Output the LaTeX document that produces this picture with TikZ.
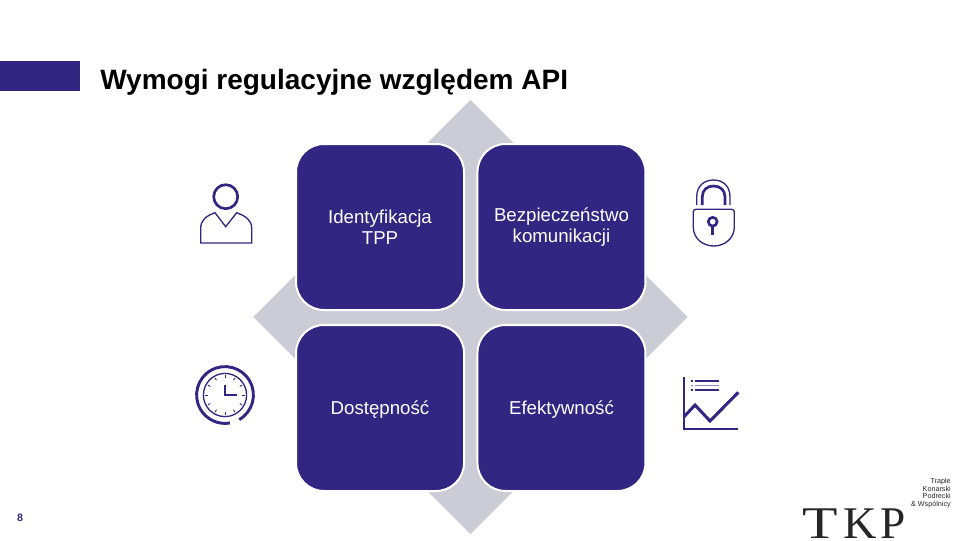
\documentclass[tikz,border=0pt]{standalone}
\usepackage{fontspec}
\setmainfont{Liberation Sans}
\newfontfamily\logofont{Liberation Serif}
\usetikzlibrary{positioning, shapes.geometric}
\definecolor{tkpnavy}{RGB}{49,39,130}
\definecolor{tkpgrey}{RGB}{203,204,214}

\begin{document}
\begin{tikzpicture}[
  x=0.75pt, y=-0.75pt,
  block/.style={
    rectangle, rounded corners=21pt,
    draw=white, line width=1.5pt, fill=tkpnavy,
    minimum width=126pt, minimum height=124.5pt,
    align=center, text=white, inner sep=0pt,
    font=\fontsize{14}{16}\selectfont,
  },
  thinline/.style={draw=tkpnavy, line width=1pt},
  thickline/.style={draw=tkpnavy, line width=2pt},
]
\useasboundingbox (0,0) rectangle (960,540);

% ── Header
\node[rectangle, fill=tkpnavy, minimum width=60pt, minimum height=22.5pt, inner sep=0pt,
      anchor=north west] (headerBar) at (0,61) {};
\node[anchor=west, inner sep=0pt, font=\fontsize{21}{23}\selectfont\bfseries] (pageTitle) at (100,82)
  {Wymogi regulacyjne względem API};

% ── Backdrop and blocks
\node[diamond, fill=tkpgrey, aspect=1, inner sep=0pt, minimum width=326pt, minimum height=326pt]
  (backdrop) at (470.5,317) {};

\node[block] (identity) at (380,227) {Identyfikacja\\TPP};
\node[block, right=8.6pt of identity] (security) {Bezpieczeństwo\\komunikacji};
\node[block, text depth=0pt, below=9.75pt of identity] (uptime) {Dostępność};
\node[block, text depth=0pt, below=9.75pt of security] (efficiency) {Efektywność};

% ── Person icon
\draw[thickline] (225.7,196.7) circle[radius=9pt];
\draw[thinline] (200.7,228.3) .. controls (200.7,220) and (206,216) .. (215,212.7)
  -- (225.7,226.7) -- (236.7,212.7) .. controls (245.5,216) and (251.7,220) .. (251.7,228.3)
  -- (251.7,243) -- (200.7,243) -- cycle;

% ── Clock icon
\draw[thinline] (225,395) circle[radius=16.2pt];
\draw[thickline, line width=2.2pt] (225,395) ++(-60:21.3pt) arc[start angle=-60, end angle=280, radius=21.3pt];
\draw[thickline] (225,385) -- (225,395) -- (237,395);
\foreach \ang in {0,30,...,330} {
  \draw[thinline, line width=0.7pt] (225,395) ++(\ang:12.8pt) -- ++(\ang:2pt);
}

% ── Lock icon
\draw[thinline] (696,209.3) -- (731.5,209.3) .. controls (733.3,209.3) and (734.3,210.5) .. (734.3,212)
  -- (734.3,227) .. controls (734.3,239) and (724,246) .. (713.8,246)
  .. controls (703.5,246) and (693.3,239) .. (693.3,227) -- (693.3,212)
  .. controls (693.3,210.5) and (694.3,209.3) .. (696,209.3) -- cycle;
\draw[thinline] (696.7,205) -- (696.7,197) .. controls (696.7,186) and (704,180) .. (713.5,180)
  .. controls (723,180) and (730,186) .. (730,197) -- (730,205);
\draw[thickline] (702.3,205) -- (702.3,197) .. controls (702.3,190) and (707,186) .. (713.5,186)
  .. controls (720,186) and (725,190) .. (725,197) -- (725,205);
\draw[thickline] (712.7,221.7) circle[radius=3.3pt];
\draw[thickline] (712.7,226.2) -- (712.7,235);

% ── Chart icon
\draw[thinline, line width=1.3pt] (684,376.7) -- (684,429.3) -- (738.3,429.3);
\draw[thickline, line width=2.3pt] (684,416.7) -- (695,405) -- (710,421) -- (738.3,392.3);
\foreach \rowy/\rowcol in {381/tkpnavy,385.7/tkpnavy!55,390/tkpnavy} {
  \draw[draw=\rowcol, line width=0.8pt] (695,\rowy) -- (719,\rowy);
  \draw[draw=\rowcol, line width=0.8pt] (690.7,\rowy) -- (692.7,\rowy);
}

% ── Page number and logo
\node[inner sep=0pt, text=tkpnavy, font=\fontsize{8}{10}\selectfont\bfseries] (pageNumber) at (20,518) {8};
\node[anchor=north east, align=right, inner sep=0pt, font=\fontsize{5.4}{5.8}\selectfont, text=black!85]
  (logoNames) at (951,478) {Traple\\Konarski\\Podrecki\\\& Wspólnicy};
\node[anchor=base west, inner sep=0pt, font=\fontsize{34}{34}\logofont, text=black!85] (logoMark) at (802,538.5)
  {\scalebox{1.28}[1]{T}\kern4pt\scalebox{1.02}[1]{K}\kern3pt P};

\end{tikzpicture}
\end{document}
